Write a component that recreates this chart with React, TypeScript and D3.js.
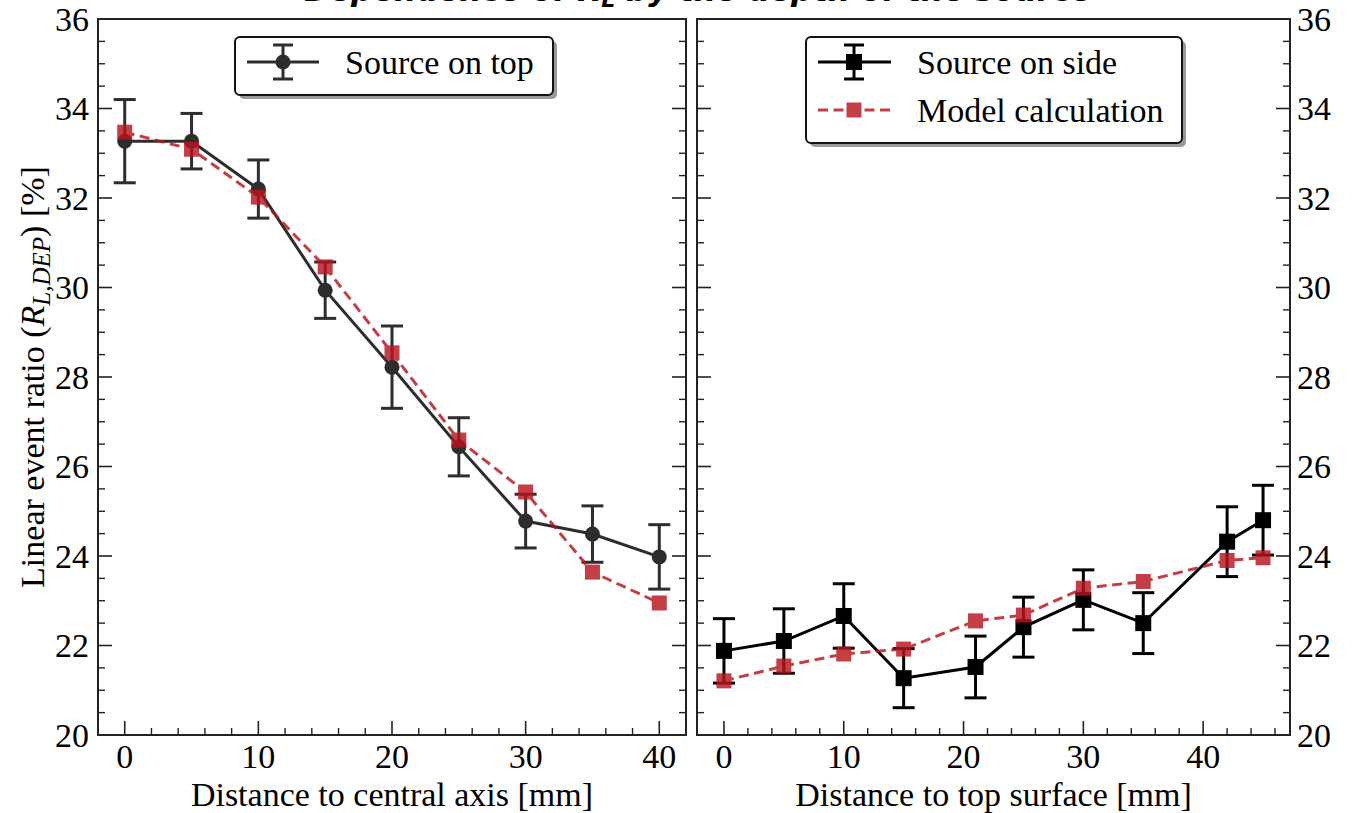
import React from "react";
import * as d3 from "d3";

const topX = [0, 5, 10, 15, 20, 25, 30, 35, 40];
const topMeasured = [33.27, 33.27, 32.2, 29.94, 28.22, 26.44, 24.78, 24.49, 23.98];
const topError = [0.93, 0.62, 0.65, 0.63, 0.92, 0.65, 0.6, 0.63, 0.72];
const topModel = [33.47, 33.09, 32.02, 30.46, 28.54, 26.59, 25.43, 23.64, 22.95];

const sideX = [0, 5, 10, 15, 21, 25, 30, 35, 42, 45];
const sideMeasured = [21.88, 22.1, 22.66, 21.27, 21.52, 22.41, 23.02, 22.5, 24.32, 24.8];
const sideError = [0.72, 0.72, 0.72, 0.66, 0.69, 0.67, 0.67, 0.68, 0.78, 0.78];
const sideModel = [21.21, 21.54, 21.81, 21.92, 22.55, 22.68, 23.28, 23.43, 23.9, 23.96];

const yMajorTicks = [20, 22, 24, 26, 28, 30, 32, 34, 36];
const xMajorTicks = [0, 10, 20, 30, 40];

const W = 1353;
const H = 813;
const TOP = 19;
const BOTTOM = 735;
const SERIF = "'Liberation Serif', 'Times New Roman', serif";
const RED = "#b8141e";
const FS = 34;
const LW = 3;

type PanelProps = {
  x0: number;
  x1: number;
  domain: [number, number];
  xs: number[];
  measured: number[];
  errors: number[];
  model: number[];
  marker: "circle" | "square";
  measuredOpacity: number;
  labelSide: "left" | "right";
  xLabel: string;
  xMinorMax: number;
};

function Panel(p: PanelProps) {
  const x = d3.scaleLinear().domain(p.domain).range([p.x0, p.x1]);
  const y = d3.scaleLinear().domain([20, 36]).range([BOTTOM, TOP]);
  const yMinor = d3.range(20, 36.01, 0.5).filter((v) => Math.abs(v / 2 - Math.round(v / 2)) > 1e-6);
  const xMinor = d3.range(0, p.xMinorMax + 0.01, 2).filter((v) => v % 10 !== 0);
  const line = d3
    .line<number>()
    .x((_, i) => x(p.xs[i]))
    .y((d) => y(d));
  const MAJ = 14;
  const MIN = 7;
  const tickColor = "#222";
  const capHalf = 11;
  const mColor = "#000";
  return (
    <g>
      {yMajorTicks.map((v) => (
        <g key={"ym" + v} stroke={tickColor} strokeWidth={1.6}>
          <line x1={p.x0} x2={p.x0 + MAJ} y1={y(v)} y2={y(v)} />
          <line x1={p.x1} x2={p.x1 - MAJ} y1={y(v)} y2={y(v)} />
        </g>
      ))}
      {yMinor.map((v) => (
        <g key={"yn" + v} stroke={tickColor} strokeWidth={1.4}>
          <line x1={p.x0} x2={p.x0 + MIN} y1={y(v)} y2={y(v)} />
          <line x1={p.x1} x2={p.x1 - MIN} y1={y(v)} y2={y(v)} />
        </g>
      ))}
      {xMajorTicks.map((v) => (
        <line key={"xm" + v} x1={x(v)} x2={x(v)} y1={BOTTOM} y2={BOTTOM - MAJ} stroke={tickColor} strokeWidth={1.6} />
      ))}
      {xMinor.map((v) => (
        <line key={"xn" + v} x1={x(v)} x2={x(v)} y1={BOTTOM} y2={BOTTOM - MIN} stroke={tickColor} strokeWidth={1.4} />
      ))}
      {yMajorTicks.map((v) => (
        <text
          key={"yl" + v}
          x={p.labelSide === "left" ? p.x0 - 9 : p.x1 + 7}
          y={y(v) + 11.5}
          textAnchor={p.labelSide === "left" ? "end" : "start"}
          fontFamily={SERIF}
          fontSize={FS}
          fill="#000"
        >
          {v}
        </text>
      ))}
      {xMajorTicks.map((v) => (
        <text key={"xl" + v} x={x(v)} y={768} textAnchor="middle" fontFamily={SERIF} fontSize={FS} fill="#000">
          {v}
        </text>
      ))}
      <text x={(p.x0 + p.x1) / 2} y={806} textAnchor="middle" fontFamily={SERIF} fontSize={FS} fill="#000">
        {p.xLabel}
      </text>
      <g opacity={p.measuredOpacity}>
        <path d={line(p.measured) || ""} fill="none" stroke={mColor} strokeWidth={LW} />
        {p.xs.map((xv, i) => (
          <g key={"e" + i} stroke={mColor} strokeWidth={LW}>
            <line x1={x(xv)} x2={x(xv)} y1={y(p.measured[i] - p.errors[i])} y2={y(p.measured[i] + p.errors[i])} />
            <line x1={x(xv) - capHalf} x2={x(xv) + capHalf} y1={y(p.measured[i] - p.errors[i])} y2={y(p.measured[i] - p.errors[i])} />
            <line x1={x(xv) - capHalf} x2={x(xv) + capHalf} y1={y(p.measured[i] + p.errors[i])} y2={y(p.measured[i] + p.errors[i])} />
          </g>
        ))}
        {p.xs.map((xv, i) =>
          p.marker === "circle" ? (
            <circle key={"m" + i} cx={x(xv)} cy={y(p.measured[i])} r={7.5} fill={mColor} />
          ) : (
            <rect key={"m" + i} x={x(xv) - 8} y={y(p.measured[i]) - 8} width={16} height={16} fill={mColor} />
          )
        )}
      </g>
      <g opacity={0.82}>
        <path d={line(p.model) || ""} fill="none" stroke={RED} strokeWidth={LW} strokeDasharray="10,5.5" />
        {p.xs.map((xv, i) => (
          <rect key={"r" + i} x={x(xv) - 7.5} y={y(p.model[i]) - 7.5} width={15} height={15} fill={RED} />
        ))}
      </g>
      <rect x={p.x0} y={TOP} width={p.x1 - p.x0} height={BOTTOM - TOP} fill="none" stroke="#222" strokeWidth={2} />
    </g>
  );
}

function LegendBox({ x, y, w, h }: { x: number; y: number; w: number; h: number }) {
  return (
    <g>
      <rect x={x + 4} y={y + 4} width={w} height={h} rx={5} fill="#999" />
      <rect x={x} y={y} width={w} height={h} rx={5} fill="#fff" stroke="#111" strokeWidth={2} />
    </g>
  );
}

export default function App() {
  const lx = d3.scaleLinear().domain([-2, 42]).range([98, 686]);
  const rx = d3.scaleLinear().domain([-2.25, 47.25]).range([697, 1290]);
  return (
    <svg width={W} height={H} style={{ position: "absolute", left: 0, top: 0, background: "#fff" }}>
      <rect width={W} height={H} fill="#fff" />
      <text
        x={698}
        y={1}
        textAnchor="middle"
        fontFamily="'DejaVu Sans', sans-serif"
        fontWeight="bold"
        fontStyle="italic"
        fontSize={31}
        fill="#000"
      >
        Dependence of R<tspan dy={6} fontSize={22}>L</tspan>
        <tspan dy={-6}> by the depth of the source</tspan>
      </text>
      <Panel
        x0={lx.range()[0]}
        x1={lx.range()[1]}
        domain={[-2, 42]}
        xs={topX}
        measured={topMeasured}
        errors={topError}
        model={topModel}
        marker="circle"
        measuredOpacity={0.82}
        labelSide="left"
        xLabel="Distance to central axis [mm]"
        xMinorMax={42}
      />
      <Panel
        x0={rx.range()[0]}
        x1={rx.range()[1]}
        domain={[-2.25, 47.25]}
        xs={sideX}
        measured={sideMeasured}
        errors={sideError}
        model={sideModel}
        marker="square"
        measuredOpacity={1}
        labelSide="right"
        xLabel="Distance to top surface [mm]"
        xMinorMax={46}
      />
      <text
        transform={`translate(44, ${(TOP + BOTTOM) / 2}) rotate(-90)`}
        textAnchor="middle"
        fontFamily={SERIF}
        fontSize={FS}
        fill="#000"
      >
        Linear event ratio (<tspan fontStyle="italic">R</tspan>
        <tspan fontStyle="italic" fontSize={25} dy={6}>L,DEP</tspan>
        <tspan dy={-6}>) [%]</tspan>
      </text>
      <LegendBox x={235} y={37} w={318} h={58} />
      <g opacity={0.82}>
        <line x1={247} x2={319} y1={62} y2={62} stroke="#000" strokeWidth={LW} />
        <line x1={283} x2={283} y1={45} y2={79} stroke="#000" strokeWidth={LW} />
        <line x1={273} x2={293} y1={45} y2={45} stroke="#000" strokeWidth={LW} />
        <line x1={273} x2={293} y1={79} y2={79} stroke="#000" strokeWidth={LW} />
        <circle cx={283} cy={62} r={7.5} fill="#000" />
      </g>
      <text x={345} y={74} fontFamily={SERIF} fontSize={FS} fill="#000">
        Source on top
      </text>
      <LegendBox x={806} y={37} w={376} h={106} />
      <g>
        <line x1={818} x2={891} y1={62} y2={62} stroke="#000" strokeWidth={LW} />
        <line x1={854} x2={854} y1={45} y2={79} stroke="#000" strokeWidth={LW} />
        <line x1={844} x2={864} y1={45} y2={45} stroke="#000" strokeWidth={LW} />
        <line x1={844} x2={864} y1={79} y2={79} stroke="#000" strokeWidth={LW} />
        <rect x={846} y={54} width={16} height={16} fill="#000" />
      </g>
      <text x={917} y={74} fontFamily={SERIF} fontSize={FS} fill="#000">
        Source on side
      </text>
      <g opacity={0.82}>
        <line x1={818} x2={891} y1={110} y2={110} stroke={RED} strokeWidth={LW} strokeDasharray="10,5.5" />
        <rect x={846.5} y={102.5} width={15} height={15} fill={RED} />
      </g>
      <text x={917} y={122} fontFamily={SERIF} fontSize={FS} fill="#000">
        Model calculation
      </text>
    </svg>
  );
}
